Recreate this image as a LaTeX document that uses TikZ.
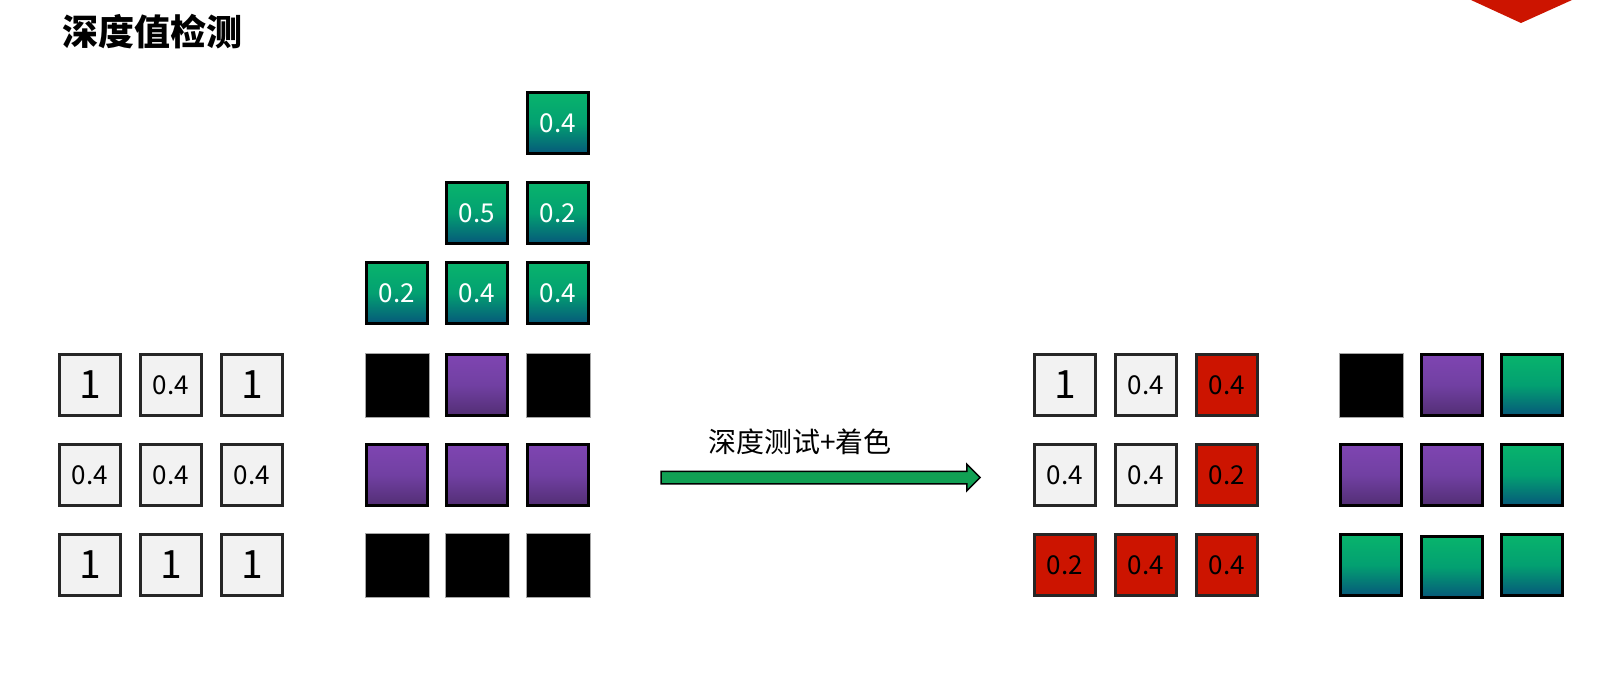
\documentclass[tikz,border=0pt]{standalone}
\usepackage{fontspec}
\setmainfont{Noto Sans CJK SC}
\usepackage{tikz}
\usetikzlibrary{shapes.arrows}
\usepackage{xcolor}
\definecolor{cellgrey}{HTML}{F2F2F2}
\definecolor{fraggreen}{HTML}{08B46C}
\definecolor{fragmid}{HTML}{03A071}
\definecolor{fragblue}{HTML}{06587A}
\definecolor{purpletop}{HTML}{7F45B2}
\definecolor{purplemid}{HTML}{7140A2}
\definecolor{purplebot}{HTML}{522E74}
\definecolor{failred}{HTML}{CC1400}
\definecolor{arrowgreen}{HTML}{11A054}

\begin{document}
\begin{tikzpicture}[x=1pt,y=-1pt]
        % Définition des styles
        \tikzset{
            cell/.style={rectangle, minimum size=61.5pt, inner sep=0pt, line width=3pt},
            depthcell/.style={cell, draw=black!85, fill=cellgrey, font=\fontsize{26}{28}\selectfont},
            farcell/.style={depthcell, font=\fontsize{39}{40}\selectfont},
            fragcell/.style={cell, draw=black, top color=fraggreen, bottom color=fragblue,
                         middle color=fragmid, text=white, font=\fontsize{26}{28}\selectfont},
            purplecell/.style={cell, draw=black, top color=purpletop, bottom color=purplebot,
                         middle color=purplemid},
            blackcell/.style={cell, minimum size=64pt, fill=black, draw=gray!70, line width=1pt},
            greencell/.style={cell, draw=black, top color=fraggreen, bottom color=fragblue,
                         middle color=fragmid},
            failcell/.style={depthcell, fill=failred, text=black},
            blockarrow/.style={single arrow, draw=black, fill=arrowgreen, line width=1.5pt,
                         minimum height=319pt, inner xsep=0pt, inner ysep=5.5pt,
                         single arrow head extend=7pt}
        }
        \useasboundingbox (0,0) rectangle (1624,686);

        % Titre
        \node[anchor=west, font=\fontsize{36}{40}\selectfont\bfseries] (title) at (59,32) {深度值检测};
        \fill[failred] (1471,0) -- (1572,0) -- (1521,23) -- cycle;

        % Tampon de profondeur
        \node[farcell] (zbuf11) at (90,385) {1};
        \node[depthcell] (zbuf12) at (171,385) {0.4};
        \node[farcell] (zbuf13) at (252,385) {1};
        \node[depthcell] (zbuf21) at (90,475) {0.4};
        \node[depthcell] (zbuf22) at (171,475) {0.4};
        \node[depthcell] (zbuf23) at (252,475) {0.4};
        \node[farcell] (zbuf31) at (90,565) {1};
        \node[farcell] (zbuf32) at (171,565) {1};
        \node[farcell] (zbuf33) at (252,565) {1};

        % Tampon de couleur
        \node[blackcell] (col11) at (397,385) {};
        \node[purplecell] (col12) at (477,385) {};
        \node[blackcell] (col13) at (558,385) {};
        \node[purplecell] (col21) at (397,475) {};
        \node[purplecell] (col22) at (477,475) {};
        \node[purplecell] (col23) at (558,475) {};
        \node[blackcell] (col31) at (397,565) {};
        \node[blackcell] (col32) at (477,565) {};
        \node[blackcell] (col33) at (558,565) {};

        % Fragments
        \node[fragcell] (frag1) at (558,123) {0.4};
        \node[fragcell] (frag2) at (477,213) {0.5};
        \node[fragcell] (frag3) at (558,213) {0.2};
        \node[fragcell] (frag4) at (397,293) {0.2};
        \node[fragcell] (frag5) at (477,293) {0.4};
        \node[fragcell] (frag6) at (558,293) {0.4};

        % Flèche
        \node[blockarrow] (testarrow) at (817.5,477.5) {};
        \node[font=\fontsize{28}{32}\selectfont] (testlabel) at (800,442) {深度测试+着色};

        % Profondeur après le test
        \node[farcell] (test11) at (1065,385) {1};
        \node[depthcell] (test12) at (1146,385) {0.4};
        \node[failcell] (test13) at (1227,385) {0.4};
        \node[depthcell] (test21) at (1065,475) {0.4};
        \node[depthcell] (test22) at (1146,475) {0.4};
        \node[failcell] (test23) at (1227,475) {0.2};
        \node[failcell] (test31) at (1065,565) {0.2};
        \node[failcell] (test32) at (1146,565) {0.4};
        \node[failcell] (test33) at (1227,565) {0.4};

        % Couleur après le test
        \node[blackcell] (out11) at (1371,385) {};
        \node[purplecell] (out12) at (1452,385) {};
        \node[greencell] (out13) at (1532,385) {};
        \node[purplecell] (out21) at (1371,475) {};
        \node[purplecell] (out22) at (1452,475) {};
        \node[greencell] (out23) at (1532,475) {};
        \node[greencell] (out31) at (1371,565) {};
        \node[greencell] (out32) at (1452,567) {};
        \node[greencell] (out33) at (1532,565) {};
    \end{tikzpicture}
\end{document}
